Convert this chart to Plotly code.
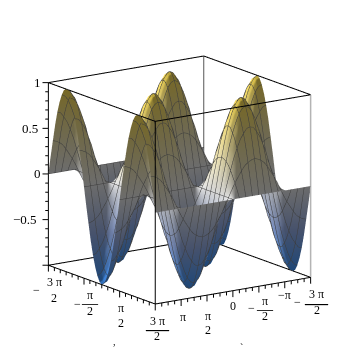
import plotly.graph_objects as go

# mesh of the surface (step of pi/16, mesh lines drawn every pi/8)
x_values = [-4.712, -4.516, -4.320, -4.123, -3.927, -3.731, -3.534, -3.338, -3.142, -2.945, -2.749, -2.553, -2.356,
            -2.160, -1.963, -1.767, -1.571, -1.374, -1.178, -0.982, -0.785, -0.589, -0.393, -0.196, 0.0,
            0.196, 0.393, 0.589, 0.785, 0.982, 1.178, 1.374, 1.571, 1.767, 1.963, 2.160, 2.356,
            2.553, 2.749, 2.945, 3.142, 3.338, 3.534, 3.731, 3.927, 4.123, 4.320, 4.516, 4.712]
y_values = list(x_values)

# one profile along x per height of the wave along y
r00 = [0] * 49
r20 = [.2, .2, .18, .17, .14, .11, .08, .04, 0, -.04, -.08, -.11, -.14, -.17, -.18, -.2, -.2, -.2, -.18, -.17, -.14, -.11, -.08, -.04, 0,
       .04, .08, .11, .14, .17, .18, .2, .2, .2, .18, .17, .14, .11, .08, .04, 0, -.04, -.08, -.11, -.14, -.17, -.18, -.2, -.2]
r38 = [.38, .37, .35, .32, .27, .21, .15, .08, 0, -.08, -.15, -.21, -.27, -.32, -.35, -.37, -.38, -.37, -.35, -.32, -.27, -.21, -.15, -.08, 0,
       .08, .15, .21, .27, .32, .35, .37, .38, .37, .35, .32, .27, .21, .15, .08, 0, -.08, -.15, -.21, -.27, -.32, -.35, -.37, -.38]
r56 = [.56, .55, .52, .46, .4, .31, .21, .11, 0, -.11, -.21, -.31, -.4, -.46, -.52, -.55, -.56, -.55, -.52, -.46, -.4, -.31, -.21, -.11, 0,
       .11, .21, .31, .4, .46, .52, .55, .56, .55, .52, .46, .4, .31, .21, .11, 0, -.11, -.21, -.31, -.4, -.46, -.52, -.55, -.56]
r71 = [.71, .7, .65, .59, .5, .4, .27, .14, 0, -.14, -.27, -.4, -.5, -.59, -.65, -.7, -.71, -.7, -.65, -.59, -.5, -.4, -.27, -.14, 0,
       .14, .27, .4, .5, .59, .65, .7, .71, .7, .65, .59, .5, .4, .27, .14, 0, -.14, -.27, -.4, -.5, -.59, -.65, -.7, -.71]
r83 = [.83, .81, .76, .69, .59, .46, .32, .17, 0, -.17, -.32, -.46, -.59, -.69, -.76, -.81, -.83, -.81, -.76, -.69, -.59, -.46, -.32, -.17, 0,
       .17, .32, .46, .59, .69, .76, .81, .83, .81, .76, .69, .59, .46, .32, .17, 0, -.17, -.32, -.46, -.59, -.69, -.76, -.81, -.83]
r92 = [.92, .9, .85, .76, .65, .52, .35, .18, 0, -.18, -.35, -.52, -.65, -.76, -.85, -.9, -.92, -.9, -.85, -.76, -.65, -.52, -.35, -.18, 0,
       .18, .35, .52, .65, .76, .85, .9, .92, .9, .85, .76, .65, .52, .35, .18, 0, -.18, -.35, -.52, -.65, -.76, -.85, -.9, -.92]
r98 = [.98, .96, .9, .81, .7, .55, .37, .2, 0, -.2, -.37, -.55, -.7, -.81, -.9, -.96, -.98, -.96, -.9, -.81, -.7, -.55, -.37, -.2, 0,
       .2, .37, .55, .7, .81, .9, .96, .98, .96, .9, .81, .7, .55, .37, .2, 0, -.2, -.37, -.55, -.7, -.81, -.9, -.96, -.98]
r100 = [1, .98, .92, .83, .71, .56, .38, .2, 0, -.2, -.38, -.56, -.71, -.83, -.92, -.98, -1, -.98, -.92, -.83, -.71, -.56, -.38, -.2, 0,
        .2, .38, .56, .71, .83, .92, .98, 1, .98, .92, .83, .71, .56, .38, .2, 0, -.2, -.38, -.56, -.71, -.83, -.92, -.98, -1]


def flip(row):
    return [-v for v in row]


up = [r20, r38, r56, r71, r83, r92, r98, r100, r98, r92, r83, r71, r56, r38, r20]
down = [flip(r) for r in up]
z_values = [r00] + down + [r00] + up + [r00] + down + [r00]

z_major_ticks = [-1, -0.5, 0, 0.5, 1]
z_minor_ticks = [-.9, -.8, -.7, -.6, -.4, -.3, -.2, -.1, .1, .2, .3, .4, .6, .7, .8, .9]
y_major_ticks = [-4.712, -1.571, 1.571, 4.712]
y_minor_ticks = [-4.189, -3.665, -3.142, -2.618, -2.094, -1.047, -0.524, 0.0, 0.524, 1.047, 2.094, 2.618, 3.142, 3.665, 4.189]
x_major_ticks = [-4.712, -3.142, -1.571, 0.0, 1.571, 3.142, 4.712]
x_minor_ticks = [-4.320, -3.927, -3.534, -2.749, -2.356, -1.963, -1.178, -0.785, -0.393,
                 0.393, 0.785, 1.178, 1.963, 2.356, 2.749, 3.534, 3.927, 4.320]

X_MAX = 4.712
Z_MAX = 1.0
PAD = 1.12
SCENE_SCALE = 1.19
FONT = "Liberation Serif"


def segments(pairs):
    xs, ys, zs = [], [], []
    for a, b in pairs:
        xs += [a[0], b[0], None]
        ys += [a[1], b[1], None]
        zs += [a[2], b[2], None]
    return xs, ys, zs


def line_trace(pairs, color, width=2):
    xs, ys, zs = segments(pairs)
    return go.Scatter3d(x=xs, y=ys, z=zs, mode="lines", line=dict(color=color, width=width),
                        hoverinfo="skip", showlegend=False, connectgaps=False)


surface = go.Surface(
    x=x_values, y=y_values, z=z_values,
    cmin=-1, cmax=1, showscale=False, hoverinfo="skip",
    colorscale=[[0, "#3f96ff"], [0.25, "#96aee6"], [0.5, "#e6e6e6"], [0.85, "#f0dc80"], [1, "#ffe050"]],
    lighting=dict(ambient=0.47, diffuse=0.75, specular=0.05, roughness=0.6, fresnel=0.0),
    lightposition=dict(x=-3000, y=2000, z=0),
    contours=dict(
        x=dict(show=True, start=-4.712, end=4.712, size=0.3927, color="#3c3c3c", width=1),
        y=dict(show=True, start=-4.712, end=4.712, size=0.3927, color="#3c3c3c", width=1),
    ),
)

# box edges
lo, hi = -X_MAX, X_MAX
black_edges = [
    ((hi, lo, Z_MAX), (hi, hi, Z_MAX)), ((hi, hi, Z_MAX), (lo, hi, Z_MAX)),
    ((lo, hi, Z_MAX), (lo, lo, Z_MAX)), ((lo, lo, Z_MAX), (hi, lo, Z_MAX)),
    ((hi, lo, -Z_MAX), (hi, hi, -Z_MAX)), ((hi, hi, -Z_MAX), (lo, hi, -Z_MAX)),
    ((lo, hi, -Z_MAX), (lo, lo, -Z_MAX)), ((lo, lo, -Z_MAX), (hi, lo, -Z_MAX)),
    ((hi, lo, -Z_MAX), (hi, lo, Z_MAX)), ((hi, hi, -Z_MAX), (hi, hi, Z_MAX)),
]
grey_edges = [((lo, lo, -Z_MAX), (lo, lo, Z_MAX))]
pale_edges = [((lo, hi, -Z_MAX), (lo, hi, Z_MAX))]

# ticks hang below the two floor edges, the z ticks go out to the left
tick_pairs = []
for t in y_major_ticks:
    tick_pairs.append(((hi, t, -Z_MAX), (hi, t, -Z_MAX * 1.07)))
for t in y_minor_ticks:
    tick_pairs.append(((hi, t, -Z_MAX), (hi, t, -Z_MAX * 1.04)))
for t in x_major_ticks:
    tick_pairs.append(((t, hi, -Z_MAX), (t, hi, -Z_MAX * 1.07)))
for t in x_minor_ticks:
    tick_pairs.append(((t, hi, -Z_MAX), (t, hi, -Z_MAX * 1.04)))
for t in z_major_ticks:
    tick_pairs.append(((hi, lo, t), (hi + 0.24, lo - 0.165, t)))
for t in z_minor_ticks:
    tick_pairs.append(((hi, lo, t), (hi + 0.13, lo - 0.09, t)))

fig = go.Figure([surface, line_trace(black_edges, "#000000"), line_trace(grey_edges, "#555555"),
                 line_trace(pale_edges, "#b4b4b4", 3), line_trace(tick_pairs, "#000000")])


def label(x, y, z, text, dx, dy, size=12):
    return dict(x=x, y=y, z=z, text=text, showarrow=False, xshift=dx, yshift=-dy,
                xanchor="center", yanchor="middle", font=dict(family=FONT, size=size, color="#000000"))


notes = []
# z axis
for t, s, dx in [(1, "1", -11), (0.5, "0.5", -18), (0, "0", -11), (-0.5, "\u22120.5", -23)]:
    notes.append(label(hi, lo, t, s, dx, 0, 13))

# y axis (front left)
notes += [
    label(hi, -4.712, -Z_MAX, "\u2212", -12, 25), label(hi, -4.712, -Z_MAX, "3 \u03c0", 6, 17), label(hi, -4.712, -Z_MAX, "2", 6, 33),
    label(hi, -1.571, -Z_MAX, "\u2212", -7, 26), label(hi, -1.571, -Z_MAX, "\u03c0", 6, 17),
    label(hi, -1.571, -Z_MAX, "\u2014", 6, 24, 16), label(hi, -1.571, -Z_MAX, "2", 6, 33),
    label(hi, 1.571, -Z_MAX, "\u03c0", 1, 17), label(hi, 1.571, -Z_MAX, "2", 1, 32),
    label(hi, 4.712, -Z_MAX, "3 \u03c0", 2, 17), label(hi, 4.712, -Z_MAX, "\u2014", 2, 24, 23), label(hi, 4.712, -Z_MAX, "2", 2, 32),
]
# x axis (front right)
notes += [
    label(3.142, hi, -Z_MAX, "\u03c0", 2, 17),
    label(1.571, hi, -Z_MAX, "\u03c0", 1, 21), label(1.571, hi, -Z_MAX, "2", 1, 35),
    label(0.0, hi, -Z_MAX, "0", 0, 15),
    label(-1.571, hi, -Z_MAX, "\u2212", -7, 22), label(-1.571, hi, -Z_MAX, "\u03c0", 6, 15),
    label(-1.571, hi, -Z_MAX, "\u2014", 6, 22, 16), label(-1.571, hi, -Z_MAX, "2", 6, 30),
    label(-3.142, hi, -Z_MAX, "\u2212\u03c0", 0, 13),
    label(-4.712, hi, -Z_MAX, "\u2212", -13, 25), label(-4.712, hi, -Z_MAX, "3 \u03c0", 6, 17),
    label(-4.712, hi, -Z_MAX, "\u2014", 6, 25, 23), label(-4.712, hi, -Z_MAX, "2", 6, 33),
]

axis_style = dict(visible=False, showbackground=False, showgrid=False, zeroline=False, showspikes=False)
fig.update_layout(
    width=355, height=355,
    margin=dict(l=0, r=0, t=0, b=0),
    paper_bgcolor="white",
    showlegend=False,
    scene=dict(
        domain=dict(x=[0, 1], y=[0, 1]),
        xaxis=dict(range=[-X_MAX * PAD, X_MAX * PAD], **axis_style),
        yaxis=dict(range=[-X_MAX * PAD, X_MAX * PAD], **axis_style),
        zaxis=dict(range=[-Z_MAX * PAD, Z_MAX * PAD], **axis_style),
        aspectmode="manual",
        aspectratio=dict(x=SCENE_SCALE, y=SCENE_SCALE, z=SCENE_SCALE),
        camera=dict(projection=dict(type="orthographic"), eye=dict(x=1.0767, y=1.6255, z=0.4701),
                    center=dict(x=-0.0233, y=0.0255, z=-0.0299), up=dict(x=0, y=0, z=1)),
        annotations=notes,
    ),
    annotations=[
        dict(x=103 / 355, y=1 - 341 / 355, xref="paper", yref="paper", text=",", showarrow=False,
             font=dict(family=FONT, size=10, color="#000000")),
        dict(x=233 / 355, y=1 - 347 / 355, xref="paper", yref="paper", text="`", showarrow=False,
             font=dict(family=FONT, size=10, color="#000000")),
    ],
)

fig.write_html("out.html")
